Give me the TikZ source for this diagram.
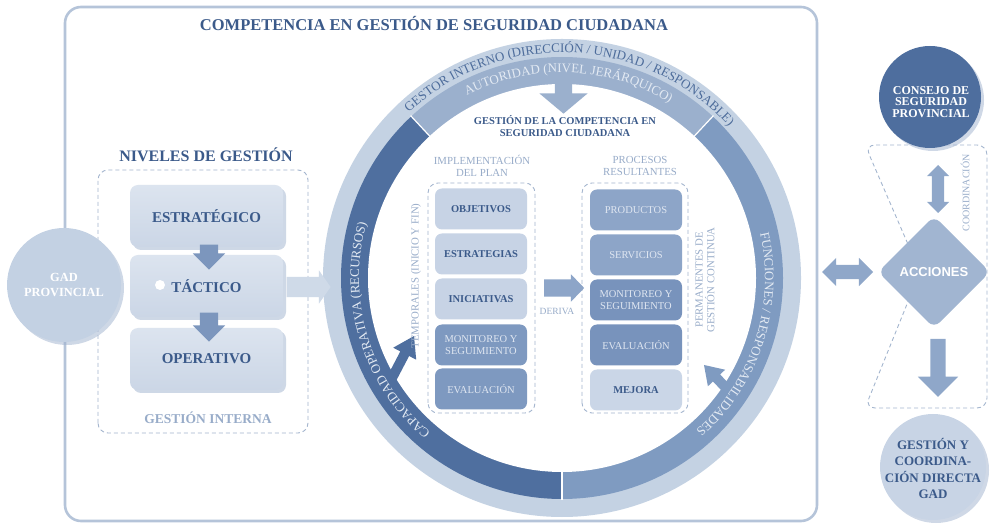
\documentclass[tikz,border=0pt]{standalone}
\usepackage{fontspec}
\setmainfont{Liberation Serif}
\newfontfamily\sansarial{Liberation Sans}
\usetikzlibrary{calc,shapes.geometric,shapes.arrows,decorations.text,shadows}
\definecolor{framec}{HTML}{B5C4D9}
\definecolor{titlec}{HTML}{3B5A8A}
\definecolor{ringl}{HTML}{C4D2E3}
\definecolor{segtopc}{HTML}{9BB0CD}
\definecolor{segleftc}{HTML}{4F6F9F}
\definecolor{segrightc}{HTML}{7F9BC1}
\definecolor{gestorc}{HTML}{4D6C9B}
\definecolor{bandtext}{HTML}{E3EAF3}
\definecolor{headc}{HTML}{98ACC9}
\definecolor{lboxc}{HTML}{C7D3E5}
\definecolor{mboxc}{HTML}{7E99C0}
\definecolor{pboxc}{HTML}{8DA5C8}
\definecolor{dboxc}{HTML}{7893BC}
\definecolor{mejc}{HTML}{CAD6E7}
\definecolor{paletext}{HTML}{DFE6F1}
\definecolor{dashc}{HTML}{A3B5CE}
\definecolor{levtop}{HTML}{DCE4EF}
\definecolor{levbot}{HTML}{CBD6E6}
\definecolor{levarr}{HTML}{7C96BD}
\definecolor{tacarr}{HTML}{CFDAE8}
\definecolor{gadc}{HTML}{C3D1E3}
\definecolor{consc}{HTML}{4E6E9E}
\definecolor{diamc}{HTML}{A1B5D1}
\definecolor{gcdc}{HTML}{C8D4E5}
\definecolor{arrc}{HTML}{8FA7C9}
\definecolor{shadc}{HTML}{9FB2CE}
\begin{document}
\begin{tikzpicture}[x=1pt,y=1pt,
  every node/.style={inner sep=0pt, outer sep=0pt},
  framebox/.style={draw=framec, line width=2.6pt, rounded corners=16pt, fill=white},
  dashbox/.style={draw=dashc, line width=0.9pt, dash pattern=on 4pt off 3pt, rounded corners=10pt},
  softshadow/.style={drop shadow={shadow xshift=3pt, shadow yshift=-3pt, fill=shadc, opacity=0.5}},
  levelbox/.style={rectangle, rounded corners=8pt, minimum width=153pt, minimum height=62pt,
    top color=levtop, bottom color=levbot, text=titlec, font=\fontsize{15}{17}\selectfont\bfseries, softshadow},
  colbox/.style={rectangle, rounded corners=7pt, minimum width=92pt, minimum height=41pt, align=center,
    font=\fontsize{10.5}{12}\selectfont},
  lightcol/.style={colbox, fill=lboxc, text=titlec, font=\fontsize{10.5}{12}\selectfont\bfseries},
  medcol/.style={colbox, fill=mboxc, text=paletext},
  prodcol/.style={colbox, fill=pboxc, text=paletext},
  darkcol/.style={colbox, fill=dboxc, text=paletext},
  headtext/.style={text=headc, align=center, font=\fontsize{10.8}{12}\selectfont},
  sarrow/.style 2 args={single arrow, single arrow head indent=0pt, draw=none,
    inner xsep=0pt, inner ysep=#1, single arrow head extend=#2},
  darrow/.style 2 args={double arrow, double arrow head indent=0pt, draw=none,
    inner xsep=0pt, inner ysep=#1, double arrow head extend=#2},
  roundnode/.style={circle, draw=none, softshadow},
  bandlabel/.style={decorate, decoration={text along path, text align=center, text color=#1}}
]
\useasboundingbox (0,0) rectangle (992,527);

% ---------- outer frame and title
\draw[framebox] (65,6) rectangle (817,520);
\node[text=titlec, font=\fontsize{16.5}{18}\selectfont\bfseries] (title) at (434,503)
  {COMPETENCIA EN GESTIÓN DE SEGURIDAD CIUDADANA};

% ---------- ring
\coordinate (C) at (562,249);
\fill[ringl] (C) circle[radius=239];
\fill[segtopc] (C) -- ([shift={(47:221)}]C) arc[start angle=47, end angle=133, radius=221] -- cycle;
\fill[segleftc] (C) -- ([shift={(133:221)}]C) arc[start angle=133, end angle=270, radius=221] -- cycle;
\fill[segrightc] (C) -- ([shift={(270:221)}]C) arc[start angle=270, end angle=407, radius=221] -- cycle;
\fill[white] (C) circle[radius=194];
\foreach \a in {47,133,270}
  \draw[white, line width=1.2pt] ([shift={(\a:193)}]C) -- ([shift={(\a:222)}]C);

% ring arrowheads
\fill[segleftc] (414,191) -- (416.2,167.3) -- (409.1,171) -- (396.4,146.7) -- (387.6,151.3)
  -- (400.3,175.6) -- (393.2,179.3) -- cycle;
\fill[segrightc] (704,162) -- (707.9,140.7) -- (712.9,145.5) -- (726.4,131.5) -- (733.6,138.5)
  -- (720.1,152.5) -- (725.1,157.3) -- cycle;

% top arrow into the circle (drawn below the band label)
\node[sarrow={8.5pt}{15.5pt}, fill=segtopc, rotate=-90, minimum height=34pt,
  single arrow tip angle=100] (topar) at (563.5,434) {};

% ring labels
\path[bandlabel=gestorc, decoration={text={|\fontsize{13}{15}\selectfont|GESTOR INTERNO (DIRECCIÓN / UNIDAD / RESPONSABLE)}}]
  ([shift={(165:225.5)}]C) arc[start angle=165, end angle=10, radius=225.5];
\path[bandlabel=bandtext, decoration={text={|\fontsize{13}{15}\selectfont|AUTORIDAD (NIVEL JERÁRQUICO)}}]
  ([shift={(150:205.5)}]C) arc[start angle=150, end angle=26, radius=205.5];
\path[bandlabel=bandtext, decoration={text={|\fontsize{13}{15}\selectfont|CAPACIDAD OPERATIVA (RECURSOS)}}]
  ([shift={(267:203)}]C) arc[start angle=267, end angle=127, radius=203];
\path[bandlabel=bandtext, decoration={text={|\fontsize{13}{15}\selectfont|FUNCIONES / RESPONSABILIDADES}}]
  ([shift={(52:203)}]C) arc[start angle=52, end angle=-88, radius=203];

\node[text=titlec, align=center, font=\fontsize{10.5}{12}\selectfont\bfseries] (gdc) at (565,401)
  {GESTIÓN DE LA COMPETENCIA EN\\SEGURIDAD CIUDADANA};

% ---------- inner columns
\node[headtext] (impl) at (482,361) {IMPLEMENTACIÓN\\DEL PLAN};
\node[headtext] (proc) at (640,361) {PROCESOS\\RESULTANTES};
\draw[dashbox] (428,114) rectangle (535,344);
\draw[dashbox] (582,114) rectangle (688,344);

\node[lightcol] (obj) at (481,318) {OBJETIVOS};
\node[lightcol] (estr) at (481,273) {ESTRATEGIAS};
\node[lightcol] (ini) at (481,228) {INICIATIVAS};
\node[medcol] (mon) at (481,182) {MONITOREO Y\\SEGUIMIENTO};
\node[medcol] (eva) at (481,138) {EVALUACIÓN};

\node[prodcol] (prod) at (636,317) {PRODUCTOS};
\node[prodcol] (serv) at (636,272) {SERVICIOS};
\node[darkcol] (mon2) at (636,227) {MONITOREO Y\\SEGUIMIENTO};
\node[darkcol] (eva2) at (636,182) {EVALUACIÓN};
\node[lightcol, fill=mejc] (mej) at (636,137) {MEJORA};

\node[sarrow={8.5pt}{5pt}, fill=pboxc, minimum height=40pt, single arrow tip angle=92] (der) at (560,239) {};
\node[headtext, font=\fontsize{9.5}{11}\selectfont] (derl) at (557,216) {DERIVA};

\node[headtext, rotate=90] (temp) at (416,251) {TEMPORALES (INICIO Y FIN)};
\node[headtext, rotate=90, font=\fontsize{10.8}{11.7}\selectfont] (perm) at (705,247) {PERMANENTES DE\\GESTIÓN CONTINUA};

% ---------- niveles de gestion
\node[text=titlec, font=\fontsize{16}{18}\selectfont\bfseries] (niv) at (206,372) {NIVELES DE GESTIÓN};
\draw[dashbox] (98,94) rectangle (308,357);
\node[sarrow={10pt}{6.5pt}, fill=tacarr, minimum height=44pt, single arrow tip angle=110] (tacar) at (305,240) {};
\node[levelbox] (estg) at (206.5,311) {ESTRATÉGICO};
\node[levelbox] (tac) at (206.5,241) {TÁCTICO};
\node[levelbox] (ope) at (206.5,168) {OPERATIVO};
\fill[white] (160,242) circle[radius=5];
\node[sarrow={9pt}{7pt}, fill=levarr, rotate=-90, minimum height=25pt] (a1) at (209,274.5) {};
\node[sarrow={9pt}{7pt}, fill=levarr, rotate=-90, minimum height=29pt] (a2) at (209,204.5) {};
\node[text=headc, font=\fontsize{13.5}{15}\selectfont\bfseries] (gi) at (208,109) {GESTIÓN INTERNA};

% GAD provincial
\node[roundnode, fill=gadc, minimum size=114pt] (gad) at (64,242) {};
\node[text=white, align=center, font=\fontsize{12.4}{15}\selectfont\bfseries] (gadt) at (gad) {GAD\\PROVINCIAL};

% ---------- right side
\draw[dashbox] (920,255) -- (865,382) -- (987,382) -- (987,119) -- (865,119) -- cycle;
\node[text=headc, rotate=90, font=\fontsize{10}{11}\selectfont] (coordl) at (965,334) {COORDINACIÓN};
\node[roundnode, fill=consc, minimum size=102pt] (cons) at (930,430) {};
\node[text=white, align=center, font=\fontsize{12}{11.7}\selectfont\bfseries] (const) at (931,425) {CONSEJO DE\\SEGURIDAD\\PROVINCIAL};
\node[darrow={6pt}{5pt}, fill=arrc, rotate=90, minimum height=48pt] (cda) at (938,338) {};
\node[diamond, fill=diamc, minimum width=112pt, minimum height=112pt, rounded corners=8pt,
  text=white, font=\sansarial\fontsize{13}{15}\selectfont\bfseries] (acc) at (934,255) {ACCIONES};
\node[darrow={7pt}{7pt}, fill=arrc, minimum height=51pt] (hda) at (847.5,255) {};
\node[sarrow={7.5pt}{12.5pt}, fill=arrc, rotate=-90, minimum height=58pt] (dwn) at (938,163) {};
\node[roundnode, fill=gcdc, minimum size=106pt] (gcd) at (933,60) {};
\node[text=titlec, align=center, font=\fontsize{13}{16.3}\selectfont\bfseries] (gcdt) at (933,58.5)
  {GESTIÓN Y\\COORDINA-\\CIÓN DIRECTA\\GAD};
\end{tikzpicture}
\end{document}
